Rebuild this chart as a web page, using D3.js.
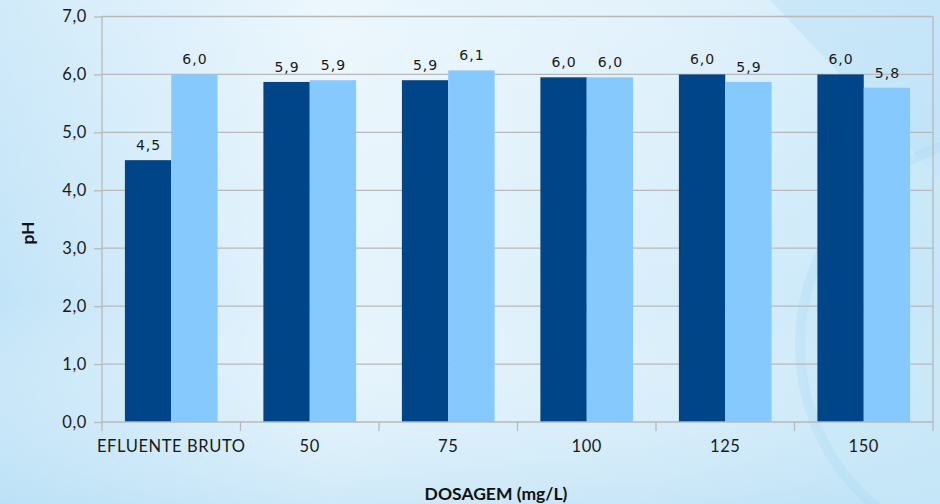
<!DOCTYPE html>
<html><head><meta charset="utf-8">
<script src="https://cdn.jsdelivr.net/npm/d3@7"></script>
<style>body{margin:0;padding:0;overflow:hidden}svg{display:block}</style>
</head><body>
<svg id="chart" width="940" height="504"></svg>
<script>
const categories = ["EFLUENTE BRUTO","50","75","100","125","150"];
const series1 = [4.52, 5.87, 5.90, 5.95, 6.00, 6.00];
const series2 = [6.00, 5.90, 6.07, 5.95, 5.87, 5.77];
const yTicks = [0,1,2,3,4,5,6,7];
const yTitle = "pH";
const xTitle = "DOSAGEM (mg/L)";

const W = 940, H = 504;
const m = {l:102, r:7, t:16.5, b:82};
const svg = d3.select("#chart");
const defs = svg.append("defs");
const g1 = defs.append("linearGradient").attr("id","bg").attr("x1","0").attr("x2","1").attr("y1","0").attr("y2","0");
g1.append("stop").attr("offset","0").attr("stop-color","#c2e4f8");
g1.append("stop").attr("offset","0.35").attr("stop-color","#e6f4fc");
g1.append("stop").attr("offset","0.7").attr("stop-color","#d9eefa");
g1.append("stop").attr("offset","1").attr("stop-color","#c4e6f8");
const g2 = defs.append("linearGradient").attr("id","bgv").attr("x1","0").attr("x2","0").attr("y1","0").attr("y2","1");
g2.append("stop").attr("offset","0").attr("stop-color","#ffffff").attr("stop-opacity",0.25);
g2.append("stop").attr("offset","0.6").attr("stop-color","#ffffff").attr("stop-opacity",0);
g2.append("stop").attr("offset","1").attr("stop-color","#b6def5").attr("stop-opacity",0.5);

svg.append("rect").attr("width",W).attr("height",H).attr("fill","url(#bg)");
svg.append("rect").attr("width",W).attr("height",H).attr("fill","url(#bgv)");
// decorative shapes
svg.append("path").attr("d","M770,0 L940,0 L940,180 Z").attr("fill","#b5def6").attr("opacity",0.45);
svg.append("circle").attr("cx",1010).attr("cy",345).attr("r",210).attr("fill","#c9e9f9").attr("opacity",0.6)
  .attr("stroke","#a9daf3").attr("stroke-width",10).attr("stroke-opacity",0.5);

const x = d3.scaleBand().domain(categories).range([m.l, W-m.r]).paddingInner(0).paddingOuter(0);
const y = d3.scaleLinear().domain([0,7]).range([H-m.b, m.t]);
const inner = d3.scaleBand().domain([0,1]).range([0, x.bandwidth()]).paddingOuter(0.5 * 45.8/46.35 ).paddingInner(0);

const grid = "#b9b9b9";
// gridlines
svg.append("g").selectAll("line").data(yTicks.slice(1)).join("line")
  .attr("x1",m.l).attr("x2",W-m.r).attr("y1",d=>y(d)).attr("y2",d=>y(d))
  .attr("stroke",grid).attr("stroke-width",1.3);
// right border
svg.append("line").attr("x1",W-m.r).attr("x2",W-m.r).attr("y1",m.t).attr("y2",y(0)).attr("stroke",grid).attr("stroke-width",1.3);

// bars
const data = categories.map((c,i)=>({c, v:[series1[i], series2[i]]}));
const colors = ["#004587","#86c9fc"];
const gb = svg.append("g");
data.forEach(d=>{
  d.v.forEach((v,j)=>{
    gb.append("rect").attr("x",x(d.c)+inner(j)).attr("width",inner.bandwidth())
      .attr("y",y(v)).attr("height",y(0)-y(v)).attr("fill",colors[j]);
    gb.append("text").attr("x",x(d.c)+inner(j)+inner.bandwidth()/2+0.5).attr("y",y(v)-10)
      .attr("text-anchor","middle").attr("font-family","DejaVu Sans").attr("font-size",14)
      .attr("letter-spacing",1).attr("fill","#1a1a1a").text(d3.format(".1f")(v).replace(".",","));
  });
});

// y axis
const ya = svg.append("g").attr("transform",`translate(${m.l},0)`)
  .call(d3.axisLeft(y).tickValues(yTicks).tickSize(8).tickPadding(7).tickFormat(d=>d3.format(".1f")(d).replace(".",",")));
ya.select(".domain").attr("stroke",grid).attr("stroke-width",1.3).attr("d",`M0,${y(0)}V${m.t}`);
ya.selectAll(".tick line").attr("stroke",grid).attr("stroke-width",1.3);
ya.selectAll(".tick text").attr("font-family","Lato").attr("font-size",16.5).attr("letter-spacing",0.6).attr("fill","#1a1a1a");

// x axis
const xa = svg.append("g").attr("transform",`translate(0,${y(0)})`)
  .call(d3.axisBottom(x).tickSize(0).tickPadding(18));
xa.select(".domain").attr("stroke",grid).attr("stroke-width",1.3).attr("d",`M${m.l},0H${W-m.r}`);
xa.selectAll(".tick text").attr("font-family","Lato").attr("font-size",16.5).attr("letter-spacing",0.6).attr("fill","#1a1a1a");
// boundary ticks
const bounds = categories.map(c=>x(c)).concat([x(categories[categories.length-1])+x.bandwidth()]);
xa.append("g").selectAll("line").data(bounds).join("line")
  .attr("x1",d=>d).attr("x2",d=>d).attr("y1",0).attr("y2",9).attr("stroke",grid).attr("stroke-width",1.3);

// titles
svg.append("text").attr("x",496).attr("y",500).attr("text-anchor","middle")
  .attr("font-family","Lato").attr("font-weight","bold").attr("font-size",17.5).attr("fill","#111").text(xTitle);
svg.append("text").attr("transform","translate(34,233) rotate(-90)").attr("text-anchor","middle")
  .attr("font-family","Lato").attr("font-weight","bold").attr("font-size",17.5).attr("fill","#111").text(yTitle);
</script>
</body></html>
